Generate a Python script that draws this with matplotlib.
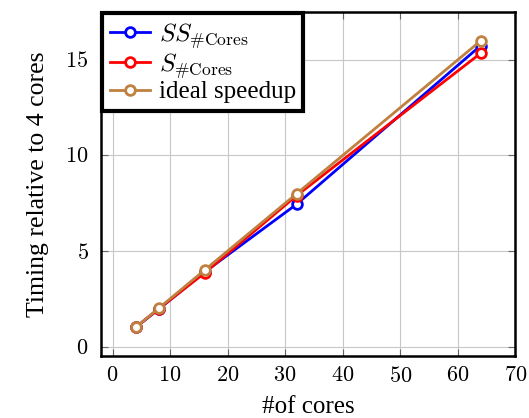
import matplotlib
matplotlib.use("Agg")
import matplotlib.pyplot as plt

# ── Data ──────────────────────────────────────────────────────────────────────

cores       = [4, 8, 16, 32, 64]
ss_cores    = [1.0, 1.95, 3.9, 7.45, 15.75]
s_cores     = [1.0, 1.97, 3.85, 7.9, 15.35]
ideal       = [1, 2, 4, 8, 16]

x_ticks = [0, 10, 20, 30, 40, 50, 60, 70]
y_ticks = [0, 5, 10, 15]

BROWN = (0.75, 0.5, 0.25)

# ── Plot ──────────────────────────────────────────────────────────────────────

plt.rcParams["mathtext.fontset"] = "cm"
plt.rcParams["font.family"] = "Liberation Serif"

fig = plt.figure(figsize=(5.29, 4.18), dpi=100)
ax = fig.add_axes([0.191, 0.148, 0.783, 0.823])

style = dict(marker="o", markersize=7, markerfacecolor="white",
             markeredgewidth=2, linewidth=2)
ax.plot(cores, ss_cores, color="blue", label=r"$SS_{\#\mathrm{Cores}}$", **style)
ax.plot(cores, s_cores, color="red", label=r"$S_{\#\mathrm{Cores}}$", **style)
ax.plot(cores, ideal, color=BROWN, label="ideal speedup", **style)

ax.set_xlim(-2, 70)
ax.set_ylim(-0.5, 17.5)
ax.set_xticks(x_ticks)
ax.set_yticks(y_ticks)
ax.set_xticklabels([f"${t}$" for t in x_ticks], fontsize=16)
ax.set_yticklabels([f"${t}$" for t in y_ticks], fontsize=16)
ax.tick_params(direction="in", top=True, right=True, length=5, width=0.8,
               color="0.4")
ax.tick_params(axis="x", pad=8)
ax.tick_params(axis="y", pad=9)
ax.grid(True, color="0.78", linewidth=0.8)
ax.set_axisbelow(True)
for sp in ax.spines.values():
    sp.set_linewidth(1.8)

ax.set_xlabel("#of cores", fontsize=18, labelpad=6)
ax.set_ylabel("Timing relative to 4 cores", fontsize=18.5, labelpad=12)

leg = ax.legend(loc="upper left", fontsize=18, fancybox=False, framealpha=1,
                edgecolor="black", borderaxespad=0.05, handlelength=1.6,
                handletextpad=0.35, labelspacing=0.05, borderpad=0.3)
leg.get_frame().set_linewidth(3)

fig.savefig("out.png", dpi=100)
